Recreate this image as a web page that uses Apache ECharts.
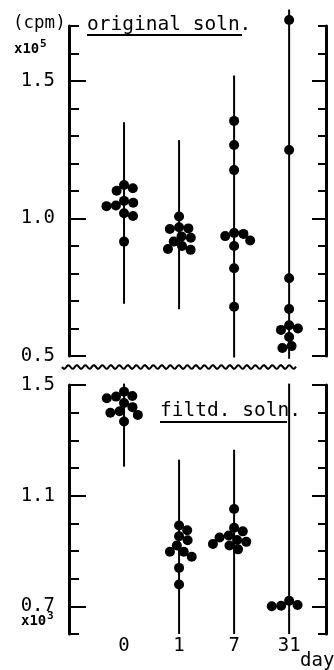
<!DOCTYPE html>
<html>
<head>
<meta charset="utf-8">
<script src="https://cdn.jsdelivr.net/npm/echarts@6/dist/echarts.min.js"></script>
<style>
  html, body { margin: 0; padding: 0; background: #fff; }
  #chart { width: 334px; height: 670px; }
</style>
</head>
<body>
<div id="chart"></div>
<script>
// Sampling days
const days = ['0', '1', '7', '31'];

// Labelled ticks on the two value axes
const topTicks = [0.5, 1.0, 1.5];
const bottomTicks = [0.7, 1.1, 1.5];

// Original solution, counts (x10^5 cpm) per day
const origDay0 = [1.122, 1.110, 1.101, 1.064, 1.057, 1.047, 1.045, 1.019, 1.009, 0.916];
const origDay1 = [1.007, 0.968, 0.964, 0.962, 0.935, 0.930, 0.916, 0.900, 0.889, 0.886];
const origDay7 = [1.355, 1.267, 1.176, 0.947, 0.944, 0.936, 0.920, 0.900, 0.819, 0.679];
const origDay31 = [1.722, 1.249, 0.783, 0.671, 0.612, 0.600, 0.595, 0.569, 0.536, 0.529];

// Range bars for the original solution
const origLow = [0.69, 0.67, 0.495, 0.49];
const origHigh = [1.35, 1.285, 1.52, 1.76];

// Filtered solution, counts (x10^3 cpm) per day
const filtDay0 = [1.476, 1.460, 1.458, 1.452, 1.435, 1.420, 1.405, 1.400, 1.392, 1.368];
const filtDay1 = [0.992, 0.975, 0.953, 0.939, 0.920, 0.897, 0.897, 0.879, 0.839, 0.779];
const filtDay7 = [1.052, 0.984, 0.971, 0.956, 0.949, 0.940, 0.933, 0.925, 0.920, 0.906];
const filtDay31 = [0.720, 0.705, 0.702, 0.700];

// Range bars for the filtered solution
const filtLow = [1.205, 0.6, 0.6, 0.6];
const filtHigh = [1.505, 1.23, 1.266, 1.505];

const origGroups = [origDay0, origDay1, origDay7, origDay31];
const filtGroups = [filtDay0, filtDay1, filtDay7, filtDay31];

const INK = '#000';
const FONT = '"DejaVu Sans Mono", "Liberation Mono", monospace';
const X_MAX = 4.67;

const chart = echarts.init(document.getElementById('chart'), null, { renderer: 'canvas' });

function yAxisSet(gridIndex, min, max, majors) {
  const base = { gridIndex, type: 'value', min, max, splitLine: { show: false } };
  const tickStyle = { color: INK, width: 2 };
  return [
    Object.assign({}, base, {
      position: 'left', interval: 0.1,
      axisLine: { show: true, lineStyle: { color: INK, width: 3 } },
      axisTick: { show: true, inside: true, length: 10, lineStyle: tickStyle },
      axisLabel: { show: false }
    }),
    Object.assign({}, base, {
      position: 'left',
      axisLine: { show: false },
      axisTick: { show: true, inside: true, length: 17, customValues: majors, lineStyle: tickStyle },
      axisLabel: {
        show: true, customValues: majors, margin: 14,
        formatter: v => v.toFixed(1),
        color: INK, fontFamily: FONT, fontSize: 19
      }
    }),
    Object.assign({}, base, {
      position: 'right', interval: 0.1,
      axisLine: { show: true, lineStyle: { color: INK, width: 3 } },
      axisTick: { show: true, inside: true, length: 8, lineStyle: tickStyle },
      axisLabel: { show: false }
    }),
    Object.assign({}, base, {
      position: 'right',
      axisLine: { show: false },
      axisTick: { show: true, inside: true, length: 14, customValues: majors, lineStyle: tickStyle },
      axisLabel: { show: false }
    })
  ];
}

function rangeData(low, high) {
  return low.map((lo, i) => [i + 1, lo, high[i]]);
}

function centredPoints(groups) {
  const out = [];
  groups.forEach((vals, i) => vals.forEach(v => out.push([i + 1, v])));
  return out;
}

function renderRange(params, api) {
  const x = api.value(0);
  const a = api.coord([x, api.value(1)]);
  const b = api.coord([x, api.value(2)]);
  return {
    type: 'line',
    shape: { x1: a[0], y1: a[1], x2: b[0], y2: b[1] },
    style: { stroke: INK, lineWidth: 2 }
  };
}

// Break mark between the two panels
function wavyPoints(x0, x1, y, amp, period) {
  const pts = [];
  for (let x = x0; x <= x1; x += 1) {
    pts.push([x, y + amp * Math.sin((x - x0) / period * Math.PI * 2)]);
  }
  return pts;
}

const dotStyle = { color: INK, opacity: 1 };

const option = {
  animation: false,
  backgroundColor: '#fff',
  grid: [
    { left: 69, right: 8, top: 26, height: 330 },
    { left: 69, right: 8, top: 385, height: 249 }
  ],
  xAxis: [
    { gridIndex: 0, type: 'value', min: 0, max: X_MAX, show: false },
    {
      gridIndex: 1, type: 'value', min: 0, max: X_MAX, interval: 1,
      axisLine: { show: false }, axisTick: { show: false }, splitLine: { show: false },
      axisLabel: {
        margin: 3, color: INK, fontFamily: FONT, fontSize: 19,
        formatter: v => (Number.isInteger(v) && v >= 1 && v <= days.length) ? days[v - 1] : ''
      }
    }
  ],
  yAxis: [].concat(
    yAxisSet(0, 0.5, 1.7, topTicks),
    yAxisSet(1, 0.6, 1.5, bottomTicks)
  ),
  series: [
    {
      type: 'custom', xAxisIndex: 0, yAxisIndex: 0,
      renderItem: renderRange, data: rangeData(origLow, origHigh), z: 2
    },
    {
      type: 'custom', xAxisIndex: 1, yAxisIndex: 4,
      renderItem: renderRange, data: rangeData(filtLow, filtHigh), z: 2
    },
    {
      id: 'orig', type: 'scatter', xAxisIndex: 0, yAxisIndex: 0, clip: false,
      symbol: 'circle', symbolSize: 10, itemStyle: dotStyle,
      data: centredPoints(origGroups), z: 3
    },
    {
      id: 'filt', type: 'scatter', xAxisIndex: 1, yAxisIndex: 4, clip: false,
      symbol: 'circle', symbolSize: 10, itemStyle: dotStyle,
      data: centredPoints(filtGroups), z: 3
    }
  ],
  graphic: [
    { type: 'text', left: 13, top: 14, style: { text: '(cpm)', font: '17.5px ' + FONT, fill: INK } },
    { type: 'text', left: 14, top: 42, style: { text: 'x10', font: 'bold 14px ' + FONT, fill: INK } },
    { type: 'text', left: 40, top: 39, style: { text: '5', font: 'bold 11px ' + FONT, fill: INK } },
    { type: 'text', left: 87, top: 15, style: { text: 'original soln.', font: '19.5px ' + FONT, fill: INK } },
    { type: 'line', shape: { x1: 87, y1: 35, x2: 242, y2: 35 }, style: { stroke: INK, lineWidth: 2 } },
    { type: 'text', left: 160, top: 401, style: { text: 'filtd. soln.', font: '19.5px ' + FONT, fill: INK } },
    { type: 'line', shape: { x1: 160, y1: 422, x2: 287, y2: 422 }, style: { stroke: INK, lineWidth: 2 } },
    { type: 'text', left: 21, top: 614, style: { text: 'x10', font: 'bold 14px ' + FONT, fill: INK } },
    { type: 'text', left: 47, top: 611, style: { text: '3', font: 'bold 11px ' + FONT, fill: INK } },
    { type: 'text', left: 300, top: 652, style: { text: 'day', font: '19px ' + FONT, fill: INK } },
    {
      type: 'polyline',
      shape: { points: wavyPoints(62, 296, 367, 1.8, 8.5) },
      style: { stroke: INK, lineWidth: 2, fill: null }
    }
  ]
};

chart.setOption(option);

// Spread overlapping dots sideways (beeswarm), working in pixels from the axes' own scales
function swarm(groups, finder) {
  const minGap = 9.4;
  const pxPerX = chart.convertToPixel(finder, [2, 1])[0] - chart.convertToPixel(finder, [1, 1])[0];
  const out = [];
  groups.forEach((vals, gi) => {
    const xc = gi + 1;
    const items = vals.map(v => ({ v, y: chart.convertToPixel(finder, [xc, v])[1], dx: 0 }));
    const order = items.slice().sort((a, b) => a.y - b.y);
    const placed = [];
    order.forEach(it => {
      const cands = [0];
      placed.forEach(p => {
        const dy = Math.abs(it.y - p.y);
        if (dy < minGap) {
          const d = Math.sqrt(minGap * minGap - dy * dy);
          cands.push(p.dx + d, p.dx - d);
        }
      });
      cands.sort((a, b) => Math.abs(a) - Math.abs(b) || b - a);
      for (const c of cands) {
        const ok = placed.every(p => {
          const ddx = c - p.dx, ddy = it.y - p.y;
          return ddx * ddx + ddy * ddy >= minGap * minGap - 0.01;
        });
        if (ok) { it.dx = c; break; }
      }
      placed.push(it);
    });
    items.forEach(it => out.push([xc + it.dx / pxPerX, it.v]));
  });
  return out;
}

chart.setOption({
  series: [
    { id: 'orig', data: swarm(origGroups, { xAxisIndex: 0, yAxisIndex: 0 }) },
    { id: 'filt', data: swarm(filtGroups, { xAxisIndex: 1, yAxisIndex: 4 }) }
  ]
});
</script>
</body>
</html>
